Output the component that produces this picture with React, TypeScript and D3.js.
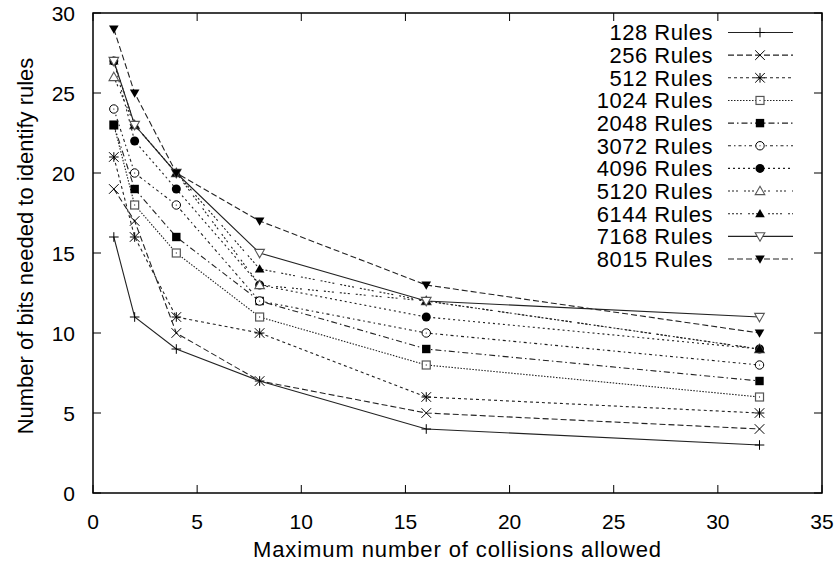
import React from "react";
import * as d3 from "d3";

const width = 835;
const height = 565;
const margin = { top: 13, right: 13, bottom: 72, left: 93 };

const collisions = [1, 2, 4, 8, 16, 32];
const ruleLabels = [
  "128 Rules", "256 Rules", "512 Rules", "1024 Rules", "2048 Rules", "3072 Rules",
  "4096 Rules", "5120 Rules", "6144 Rules", "7168 Rules", "8015 Rules",
];
const bits128 = [16, 11, 9, 7, 4, 3];
const bits256 = [19, 17, 10, 7, 5, 4];
const bits512 = [21, 16, 11, 10, 6, 5];
const bits1024 = [23, 18, 15, 11, 8, 6];
const bits2048 = [23, 19, 16, 12, 9, 7];
const bits3072 = [24, 20, 18, 12, 10, 8];
const bits4096 = [27, 22, 19, 13, 11, 9];
const bits5120 = [26, 23, 20, 13, 12, 9];
const bits6144 = [27, 23, 20, 14, 12, 9];
const bits7168 = [27, 23, 20, 15, 12, 11];
const bits8015 = [29, 25, 20, 17, 13, 10];
const allBits = [bits128, bits256, bits512, bits1024, bits2048, bits3072, bits4096, bits5120, bits6144, bits7168, bits8015];
const xTicks = [0, 5, 10, 15, 20, 25, 30, 35];
const yTicks = [0, 5, 10, 15, 20, 25, 30];

// gnuplot-ish dash patterns, cycling after 9
const dashes = ["", "6 3", "3 3", "1.5 1.5", "6 3 1.5 3", "3 3 1.5 3", "2 3", "2 2 2 2 2 6", "2 2 2 2 2 2 2 6"];

const Marker = ({ kind, x, y }: { kind: number; x: number; y: number }) => {
  const s = 4.8;
  const st = { stroke: "#000", strokeWidth: 1 };
  switch (kind) {
    case 0:
      return <path d={`M${x - s},${y}H${x + s}M${x},${y - s}V${y + s}`} {...st} />;
    case 1:
      return <path d={`M${x - s},${y - s}L${x + s},${y + s}M${x - s},${y + s}L${x + s},${y - s}`} {...st} />;
    case 2:
      return <path d={`M${x - s},${y}H${x + s}M${x},${y - s}V${y + s}M${x - s},${y - s}L${x + s},${y + s}M${x - s},${y + s}L${x + s},${y - s}`} {...st} />;
    case 3:
      return <g><rect x={x - 4} y={y - 4} width={8} height={8} fill="#fff" stroke="#555" strokeWidth={1.2} /><rect x={x - 0.5} y={y - 0.5} width={1} height={1} fill="#000" /></g>;
    case 4:
      return <rect x={x - 4.2} y={y - 4.2} width={8.4} height={8.4} fill="#000" />;
    case 5:
      return <g><circle cx={x} cy={y} r={4.2} fill="#fff" stroke="#000" strokeWidth={1} /><circle cx={x} cy={y} r={0.6} fill="#000" /></g>;
    case 6:
      return <circle cx={x} cy={y} r={4.5} fill="#000" />;
    case 7:
      return <path d={`M${x},${y - 4.8}L${x + 4.8},${y + 3.6}L${x - 4.8},${y + 3.6}Z`} fill="#fff" stroke="#555" strokeWidth={1.1} />;
    case 8:
      return <path d={`M${x},${y - 4.8}L${x + 4.8},${y + 3.6}L${x - 4.8},${y + 3.6}Z`} fill="#000" />;
    case 9:
      return <path d={`M${x},${y + 4.8}L${x + 4.8},${y - 3.6}L${x - 4.8},${y - 3.6}Z`} fill="#fff" stroke="#555" strokeWidth={1.1} />;
    default:
      return <path d={`M${x},${y + 4.8}L${x + 4.8},${y - 3.6}L${x - 4.8},${y - 3.6}Z`} fill="#000" />;
  }
};

const App = () => {
  const innerW = width - margin.left - margin.right;
  const innerH = height - margin.top - margin.bottom;
  const xScale = d3.scaleLinear().domain([0, 35]).range([0, innerW]);
  const yScale = d3.scaleLinear().domain([0, 30]).range([innerH, 0]);
  const line = d3.line<number>()
    .x((_, i) => xScale(collisions[i]))
    .y((d) => yScale(d));
  const font = "'Liberation Sans', Arial, Helvetica, sans-serif";
  const tick = 8;

  return (
    <svg width={width} height={height} style={{ position: "absolute", left: 0, top: 0 }} fontFamily={font}>
      <rect width={width} height={height} fill="#fff" />
      <g transform={`translate(${margin.left},${margin.top})`}>
        {xTicks.map((t) => (
          <g key={"x" + t}>
            <line x1={xScale(t)} x2={xScale(t)} y1={innerH} y2={innerH - tick} stroke="#000" />
            <line x1={xScale(t)} x2={xScale(t)} y1={0} y2={tick} stroke="#000" />
            <text x={xScale(t)} y={innerH + 36} textAnchor="middle" fontSize={21}>{t}</text>
          </g>
        ))}
        {yTicks.map((t) => (
          <g key={"y" + t}>
            <line x1={0} x2={tick} y1={yScale(t)} y2={yScale(t)} stroke="#000" />
            <line x1={innerW} x2={innerW - tick} y1={yScale(t)} y2={yScale(t)} stroke="#000" />
            <text x={-18} y={yScale(t)} dy="0.36em" textAnchor="end" fontSize={21}>{t}</text>
          </g>
        ))}
        {allBits.map((vals, k) => (
          <g key={"s" + k}>
            <path d={line(vals) || ""} fill="none" stroke="#222" strokeWidth={1.1} strokeDasharray={dashes[k % 9]} />
            {vals.map((v, i) => (
              <Marker key={i} kind={k} x={xScale(collisions[i])} y={yScale(v)} />
            ))}
          </g>
        ))}
        {ruleLabels.map((lab, k) => {
          const ly = 19.5 + k * 22.65;
          return (
            <g key={"l" + k}>
              <text x={620} y={ly} dy="0.36em" textAnchor="end" fontSize={22} letterSpacing={0.5}>{lab}</text>
              <line x1={635} x2={700} y1={ly} y2={ly} stroke="#222" strokeWidth={1.1} strokeDasharray={dashes[k % 9]} />
              <Marker kind={k} x={667} y={ly} />
            </g>
          );
        })}
        <rect x={0} y={0} width={innerW} height={innerH} fill="none" stroke="#000" strokeWidth={1.5} />
      </g>
      <text x={margin.left + innerW / 2} y={557} textAnchor="middle" fontSize={22} letterSpacing={0.9}>Maximum number of collisions allowed</text>
      <text transform={`translate(33,246) rotate(-90)`} textAnchor="middle" fontSize={22}>Number of bits needed to identify rules</text>
    </svg>
  );
};

export default App;
